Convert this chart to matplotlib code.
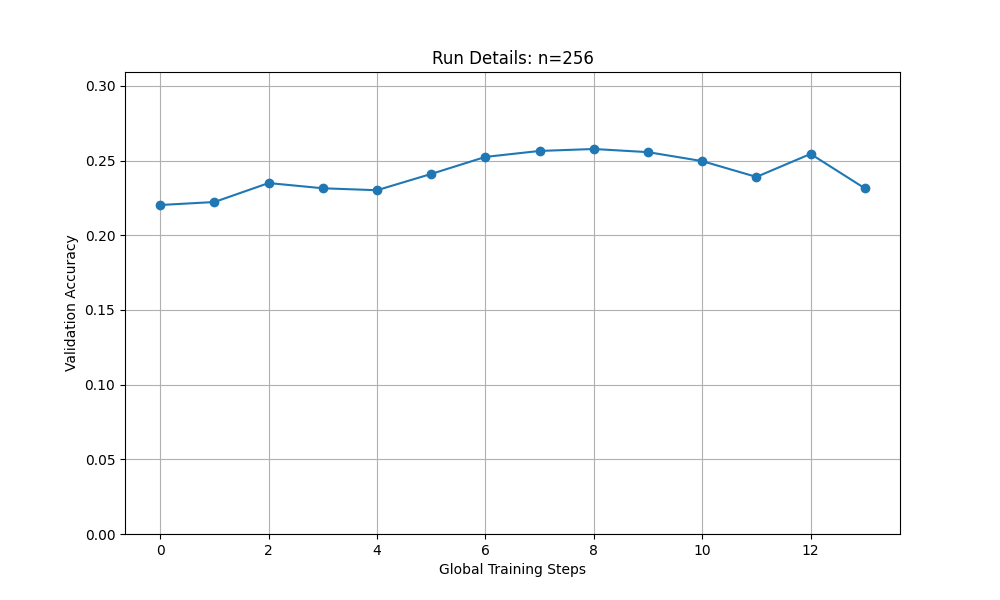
import matplotlib
matplotlib.use('Agg')
from matplotlib import pyplot as plt

# 训练步数与验证准确率
steps = list(range(14))
accuracy = [0.2203, 0.2223, 0.2350, 0.2315, 0.2302, 0.2411, 0.2525, 0.2565,
            0.2578, 0.2557, 0.2497, 0.2391, 0.2545, 0.2315]

plt.figure(figsize=(10, 6), dpi=100)
plt.plot(steps, accuracy, marker='o')
plt.title('Run Details: n=256')
plt.xlabel('Global Training Steps')
plt.ylabel('Validation Accuracy')
plt.ylim(0, max(accuracy) * 1.2)
plt.grid(True)

plt.savefig('out.png')
